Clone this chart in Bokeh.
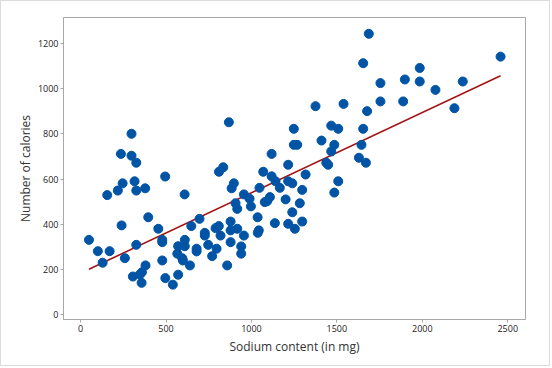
from bokeh.plotting import figure
from bokeh.models import FixedTicker
from bokeh.embed import file_html
from bokeh.resources import INLINE

sodium = [49, 101, 129, 156, 170, 218, 236, 240, 246, 259, 298, 298, 306, 316, 326, 326, 326,
          347, 357, 359, 378, 380, 396, 455, 478, 478, 478, 495, 496, 540, 566, 571, 571, 595,
          599, 609, 610, 610, 640, 648, 679, 679, 696, 727, 727, 747, 770, 790, 796, 809, 810,
          819, 835, 858, 868, 878, 878, 878, 884, 897, 907, 917, 917, 940, 940, 956, 956, 989,
          997, 1036, 1037, 1043, 1047, 1069, 1078, 1092, 1108, 1118, 1118, 1137, 1141, 1166,
          1200, 1215, 1215, 1215, 1239, 1239, 1248, 1248, 1268, 1254, 1283, 1297, 1297, 1317,
          1375, 1410, 1438, 1449, 1467, 1467, 1485, 1485, 1508, 1508, 1539, 1629, 1644, 1654,
          1654, 1670, 1677, 1687, 1755, 1755, 1888, 1898, 1985, 1985, 2077, 2188, 2237, 2458]
calories = [331, 281, 230, 529, 281, 549, 711, 395, 581, 250, 800, 703, 169, 590, 672, 549, 309,
            178, 141, 188, 559, 218, 431, 380, 331, 321, 240, 611, 162, 133, 270, 303, 177, 250,
            240, 532, 331, 303, 218, 392, 292, 280, 424, 362, 350, 309, 259, 383, 292, 392, 632,
            350, 652, 218, 851, 412, 373, 321, 559, 581, 493, 468, 380, 302, 270, 532, 350, 513,
            479, 431, 362, 373, 561, 632, 498, 502, 520, 711, 612, 405, 590, 561,
            510, 663, 590, 402, 581, 453, 822, 751, 751, 380, 493, 552, 412, 620,
            922, 770, 672, 663, 836, 722, 751, 540, 822, 590, 932, 694, 751, 1112,
            822, 672, 900, 1242, 1024, 943, 943, 1040, 1091, 1031, 994, 913, 1031, 1141]

fit_intercept = 184.0
fit_slope = 0.355

x_ticks = [0, 500, 1000, 1500, 2000, 2500]
y_ticks = [0, 200, 400, 600, 800, 1000, 1200]

p = figure(width=550, height=366, x_range=(-100, 2604), y_range=(-21, 1314),
           output_backend="svg", toolbar_location=None,
           min_border_left=62, min_border_right=26, min_border_top=16, min_border_bottom=48)
p.styles = {"border": "1px solid #dcdcdc"}
p.background_fill_color = "white"
p.border_fill_color = "white"
p.outline_line_color = "#a8a8a8"
p.outline_line_width = 1
p.xgrid.visible = False
p.ygrid.visible = False

for ax in (p.xaxis, p.yaxis):
    ax.axis_line_color = "#a8a8a8"
    ax.major_tick_line_color = "#a8a8a8"
    ax.major_tick_out = 3
    ax.major_tick_in = 0
    ax.minor_tick_line_color = None
    ax.major_label_standoff = 2
    ax.major_label_text_font = "Open Sans"
    ax.major_label_text_font_size = "9px"
    ax.major_label_text_color = "#222222"
    ax.axis_label_text_font = "Open Sans"
    ax.axis_label_text_font_size = "12px"
    ax.axis_label_text_font_style = "normal"
    ax.axis_label_text_color = "#333333"

p.xaxis.axis_label_standoff = 3
p.yaxis.axis_label_standoff = 1
p.xaxis.ticker = FixedTicker(ticks=x_ticks)
p.yaxis.ticker = FixedTicker(ticks=y_ticks)
p.xaxis.axis_label = "Sodium content (in mg)"
p.yaxis.axis_label = "Number of calories"

x0, x1 = min(sodium), max(sodium)
p.line([x0, x1], [fit_intercept + fit_slope * x0, fit_intercept + fit_slope * x1],
       line_color="#A31515", line_width=1.6)
p.scatter(sodium, calories, size=9, fill_color="#0054A6", line_color="#0054A6")

open("out.html", "w").write(file_html(p, INLINE))
